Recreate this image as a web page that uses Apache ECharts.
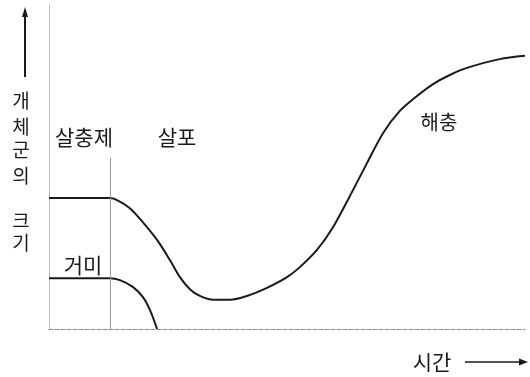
<!DOCTYPE html>
<html>
<head>
<meta charset="utf-8">
<script src="https://cdn.jsdelivr.net/npm/echarts@6/dist/echarts.min.js"></script>
<style>
  html, body { margin: 0; padding: 0; background: #fff; }
  #chart { width: 530px; height: 377px; }
</style>
</head>
<body>
<div id="chart"></div>
<script>
// population size (0-100) over time (0-100)
const pestTime = [0, 12.8, 14.3, 17.0, 19.7, 22.7, 25.4, 27.5, 29.6, 31.7, 34.5, 38.0, 41.6, 45.8, 50.0, 52.7, 56.3, 59.7, 63.2, 66.8, 70.2, 73.7, 77.3, 80.7, 84.2, 87.8, 94.7, 100];
const pestSize = [40.4, 40.4, 39.8, 37.3, 33.0, 27.5, 21.3, 16.0, 12.3, 10.2, 9.0, 9.0, 10.2, 12.7, 16.0, 19.1, 24.4, 31.5, 41.0, 51.2, 60.5, 67.3, 71.9, 75.6, 78.4, 80.6, 83.3, 84.3];
const spiderTime = [0, 12.8, 14.9, 17.6, 19.7, 21.2, 22.7];
const spiderSize = [15.7, 15.7, 15.1, 13.0, 9.9, 5.9, 0];
const sprayTime = 12.8;
const sprayLineTop = 52.8;

const zip = (xs, ys) => xs.map((x, i) => [x, ys[i]]);

const FONT = '"Noto Sans CJK KR", sans-serif';
const INK = '#1a1a1a';

const txt = (text, x, y, size) => ({
  type: 'text',
  x: x,
  y: y,
  silent: true,
  style: { text: text, fill: INK, fontSize: size, fontFamily: FONT, align: 'center', verticalAlign: 'middle' },
});

// vertical axis title, one glyph per line
const yTitle = [['개', 101], ['체', 127], ['군', 150], ['의', 176], ['크', 221], ['기', 243]];

const chart = echarts.init(document.getElementById('chart'));
chart.setOption({
  animation: false,
  grid: { left: 49, right: 5, top: 5, bottom: 48 },
  xAxis: {
    type: 'value',
    min: 0,
    max: 100,
    axisLine: { lineStyle: { color: '#8a8a8a', width: 1, type: 'dashed' } },
    axisTick: { show: false },
    axisLabel: { show: false },
    splitLine: { show: false },
  },
  yAxis: {
    type: 'value',
    min: 0,
    max: 100,
    axisLine: { show: true, lineStyle: { color: '#b8b8b8', width: 1 } },
    axisTick: { show: false },
    axisLabel: { show: false },
    splitLine: { show: false },
  },
  series: [
    {
      name: '해충',
      type: 'line',
      data: zip(pestTime, pestSize),
      smooth: 0.3,
      showSymbol: false,
      lineStyle: { color: INK, width: 2 },
      markLine: {
        silent: true,
        symbol: 'none',
        label: { show: false },
        lineStyle: { color: '#999', width: 1, type: 'solid' },
        data: [[{ coord: [sprayTime, 0] }, { coord: [sprayTime, sprayLineTop] }]],
      },
    },
    {
      name: '거미',
      type: 'line',
      data: zip(spiderTime, spiderSize),
      smooth: 0.3,
      showSymbol: false,
      lineStyle: { color: INK, width: 2 },
    },
  ],
  graphic: [
    // y arrow
    { type: 'line', silent: true, shape: { x1: 25, y1: 14, x2: 25, y2: 77 }, style: { stroke: INK, lineWidth: 2 } },
    { type: 'polygon', silent: true, shape: { points: [[25, 7], [22, 17], [28, 17]] }, style: { fill: INK } },
    ...yTitle.map(([c, y]) => txt(c, 21, y, 19)),
    // x arrow
    txt('시간', 432, 362, 21),
    { type: 'line', silent: true, shape: { x1: 465, y1: 362, x2: 521, y2: 362 }, style: { stroke: INK, lineWidth: 1.5 } },
    { type: 'polygon', silent: true, shape: { points: [[528, 362], [519, 358.5], [519, 365.5]] }, style: { fill: INK } },
    // annotations
    txt('살충제', 84, 137, 21),
    txt('살포', 177, 137, 21),
    txt('해충', 439, 122, 20),
    txt('거미', 83, 265, 21),
  ],
});
</script>
</body>
</html>
